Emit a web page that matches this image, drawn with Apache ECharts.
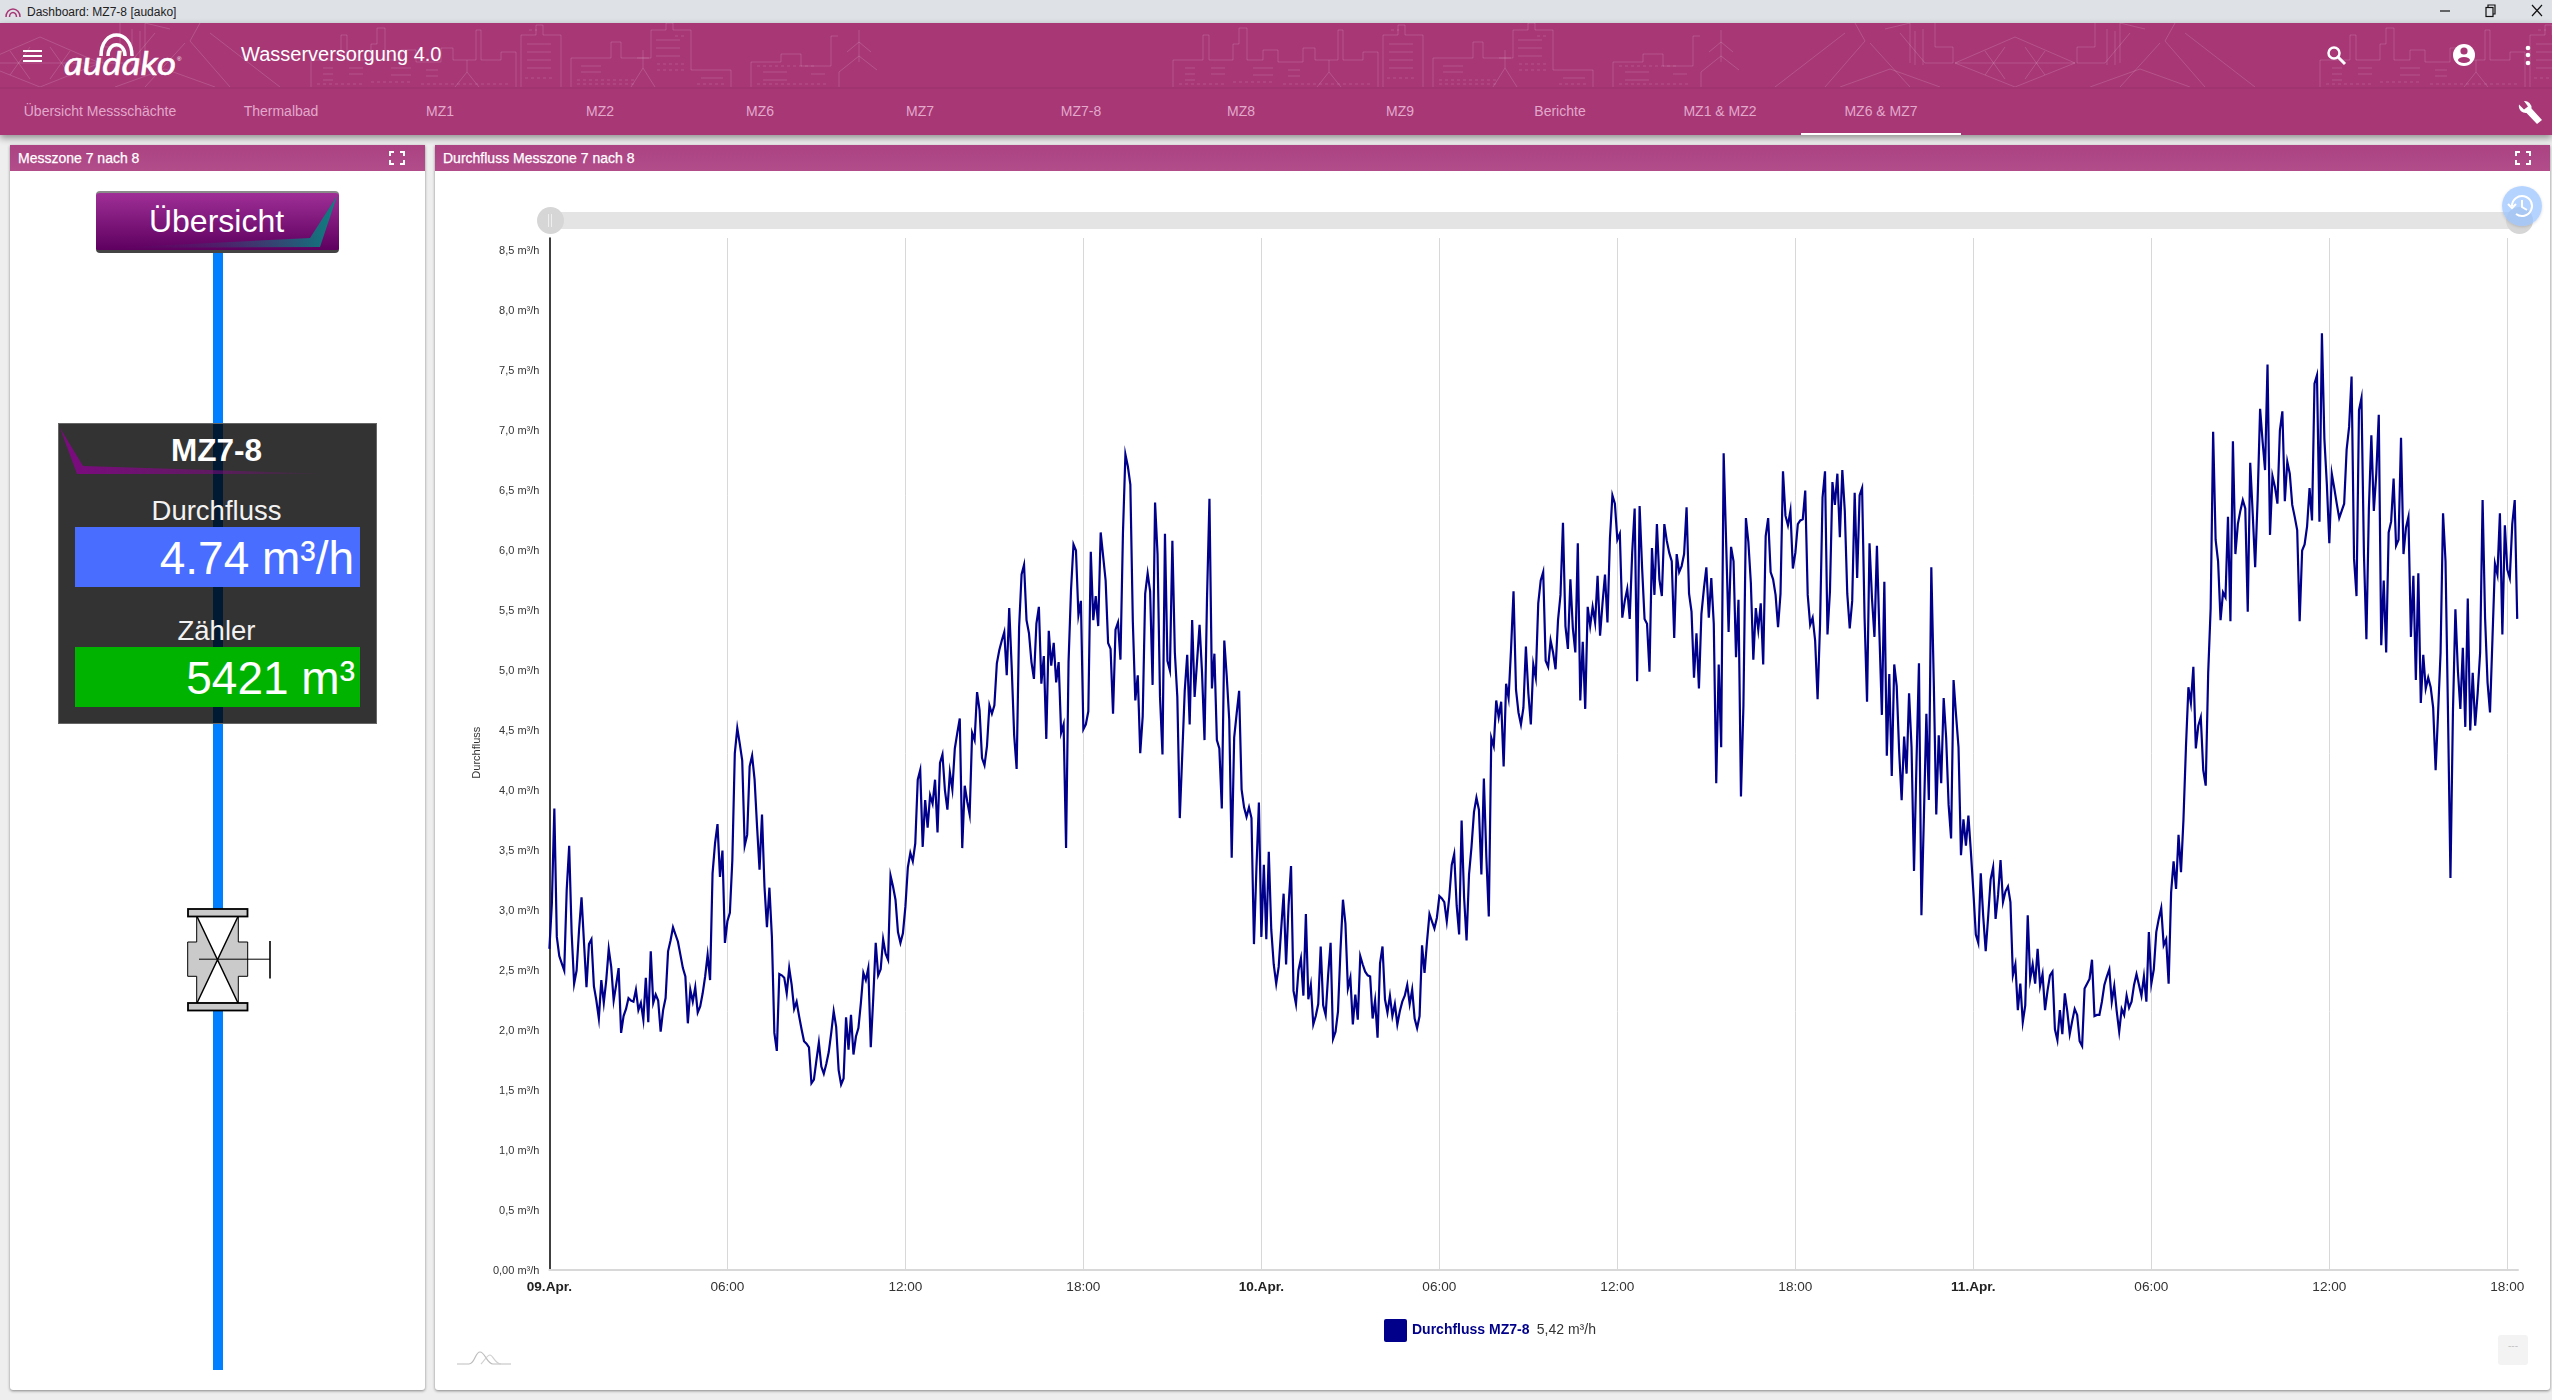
<!DOCTYPE html>
<html lang="de"><head><meta charset="utf-8"><title>Dashboard: MZ7-8 [audako]</title>
<script src="https://cdn.jsdelivr.net/npm/echarts@6/dist/echarts.min.js"></script>
<style>
html,body{margin:0;padding:0;width:2552px;height:1400px;overflow:hidden;background:#eeeeee;font-family:"Liberation Sans",Arial,sans-serif}
.a{position:absolute}
.t{position:absolute;white-space:nowrap;line-height:1}
.tab{position:absolute;top:104px;width:160px;margin-left:-80px;text-align:center;font-size:14px;line-height:14px;color:#e2a9cb;white-space:nowrap}
.card{position:absolute;top:145px;height:1245px;background:#fff;box-shadow:0 1px 3px rgba(0,0,0,.45);border-radius:0 0 3px 3px}
.chead{position:absolute;left:0;right:0;top:0;height:26px;background:linear-gradient(#ab4282,#b24d8a);color:#fff;font-size:14px;line-height:26px;padding-left:8px;box-sizing:border-box;-webkit-text-stroke:.25px #fff}
#main{position:absolute;left:0;top:0;width:2552px;height:1400px;z-index:5}
.over{z-index:6}
</style></head><body>

<div class="a" style="left:0;top:0;width:2552px;height:23px;background:#dee1e6"></div>
<svg class="a" style="left:4px;top:6px" width="18" height="12" viewBox="0 0 18 12" fill="none" stroke="#a83776" stroke-width="1.5"><path d="M2 11A7 8 0 0 1 16 11"/><path d="M5.5 11A3.5 4.5 0 0 1 12.5 11"/></svg>
<div class="t" style="left:27px;top:6px;font-size:12px;color:#222">Dashboard: MZ7-8 [audako]</div>
<svg class="a" style="left:2430px;top:0" width="122" height="23" fill="none" stroke="#111" stroke-width="1.2"><path d="M10 11H20"/><rect x="56" y="7.5" width="7" height="9"/><path d="M58 7.5V5H65V14H63"/><path d="M102 5L112 16M112 5L102 16"/></svg>

<div class="a" style="left:0;top:23px;width:2552px;height:112px;background:#a83776;box-shadow:0 3px 7px rgba(0,0,0,.4)"></div>
<svg class="a" style="left:0;top:23px" width="2552" height="64" viewBox="0 23 2552 64" fill="none" stroke="rgba(255,255,255,.15)" stroke-width="1">
<defs>
<g id="city">
<path d="M0 87V60H30V35H36V60H60V44H66V28H74V60H90V50H105V62H130V48H142V60H165V30H170V60H190V52H205V87"/>
<path d="M210 87V35H225V25H232V35H250V87M260 87V58H300V42H310V58H340V30H355V23H362V30H380V70H420V87"/>
<path d="M440 87V62H470V54H490V66H520V36H527M528 87V72L548 56M548 56L566 70M548 62V30M548 42L536 52M548 42L560 52"/>
<path d="M12 68h10M12 74h10M12 80h10M38 68h14M38 74h14M80 68h20M80 75h20M115 70h12M115 76h12M216 44h24M216 52h24M216 60h24M216 68h24M270 66h20M270 72h20M345 40h24M345 48h24M345 56h24M390 78h22M452 72h24M452 80h24M500 74h14"/>
<path stroke-dasharray="3 3" d="M6 84h48M60 82h40M110 84h90M214 78h30M266 80h60M266 84h60M346 64h28M346 70h28M386 84h30M446 66h60M446 84h70M218 30h8M364 36h10"/>
<path d="M144 87L156 72L168 87M156 72V60M320 87L332 68L344 87M332 68V50M326 58H338"/>
</g>
<g id="dam">
<path d="M-60 40L0 14L60 40L0 64ZM-60 40H60M-30 28L-10 56M30 28L10 56M-30 52L-10 24M30 52L10 24"/>
<path d="M-62 40V24H-80V0M62 40V24H80V0M-115 10L-90 40H-62M115 10L90 40H62M-145 20L-105 64M145 20L105 64"/>
<path d="M-130 6L-105 0V40M130 6L105 0V40M-100 8V42M100 8V42M-92 6V42M92 6V42"/>
<path d="M-190 64L-150 18L-160 0M190 64L150 18L160 0M-240 64L-170 10M240 64L170 10"/>
<path d="M-175 64L-125 46L-75 64M175 64L125 46L75 64"/>
</g>
</defs>
<use href="#dam" x="40" y="23"/>
<use href="#city" x="311" y="0"/>
<use href="#city" x="1173" y="0"/>
<use href="#dam" x="2015" y="23"/>
<use href="#city" x="2320" y="0"/>
</svg>
<div class="a" style="left:0;top:87px;width:2552px;height:2px;background:rgba(0,0,0,.05)"></div>

<div class="a" style="left:23px;top:50px;width:19px;height:2px;background:#fff"></div>
<div class="a" style="left:23px;top:55px;width:19px;height:2px;background:#fff"></div>
<div class="a" style="left:23px;top:60px;width:19px;height:2px;background:#fff"></div>
<svg class="a" style="left:60px;top:30px" width="125" height="50" viewBox="60 30 125 50" fill="none" stroke="#fff" stroke-width="3.5"><path d="M101 56C101 28 132 28 132 56"/><path d="M108 56C108 41 125 41 125 56"/>
<text x="64" y="75" textLength="112" lengthAdjust="spacingAndGlyphs" font-family="Lato" font-style="italic" font-size="33" fill="#fff" stroke="#fff" stroke-width=".6">audako</text><text x="177" y="61" font-size="6" fill="#fff" stroke="none">®</text></svg>
<div class="t" style="left:241px;top:44px;font-size:20px;color:#fff">Wasserversorgung 4.0</div>
<svg class="a" style="left:2320px;top:40px" width="232" height="30" fill="#fff"><circle cx="14" cy="13" r="5.5" fill="none" stroke="#fff" stroke-width="2.5"/><path d="M18 17L25 24" stroke="#fff" stroke-width="3"/><circle cx="144" cy="15" r="11"/><circle cx="144" cy="11" r="3.6" fill="#a83776"/><ellipse cx="144" cy="20" rx="6" ry="3" fill="#a83776"/><circle cx="208" cy="8" r="2.3"/><circle cx="208" cy="15" r="2.3"/><circle cx="208" cy="23" r="2.3"/></svg>

<div class="tab" style="left:100px">Übersicht Messschächte</div>
<div class="tab" style="left:281px">Thermalbad</div>
<div class="tab" style="left:440px">MZ1</div>
<div class="tab" style="left:600px">MZ2</div>
<div class="tab" style="left:760px">MZ6</div>
<div class="tab" style="left:920px">MZ7</div>
<div class="tab" style="left:1081px">MZ7-8</div>
<div class="tab" style="left:1241px">MZ8</div>
<div class="tab" style="left:1400px">MZ9</div>
<div class="tab" style="left:1560px">Berichte</div>
<div class="tab" style="left:1720px">MZ1 &amp; MZ2</div>
<div class="tab" style="left:1881px">MZ6 &amp; MZ7</div>
<div class="a" style="left:1801px;top:133px;width:160px;height:2px;background:#fff"></div>
<svg class="a" style="left:2516px;top:99px" width="28" height="26"><path d="M3 5.5A7 7 0 0 0 10.5 14L21 25L26 21L15.5 9.5A7 7 0 0 0 8 2L12 7.5L8 10.5Z" fill="#fff"/></svg>

<div class="card" style="left:10px;width:415px"><div class="chead">Messzone 7 nach 8</div></div>
<div class="card" style="left:435px;width:2115px"><div class="chead">Durchfluss Messzone 7 nach 8</div></div>
<svg class="a" style="left:389px;top:151px;z-index:2" width="16" height="14" fill="none" stroke="#fff" stroke-width="2"><path d="M1 5V1H5M11 1H15V5M15 9V13H11M5 13H1V9"/></svg>
<svg class="a" style="left:2515px;top:151px;z-index:2" width="16" height="14" fill="none" stroke="#fff" stroke-width="2"><path d="M1 5V1H5M11 1H15V5M15 9V13H11M5 13H1V9"/></svg>

<div class="a" style="left:212.5px;top:250px;width:10px;height:1120px;background:#0080ff;z-index:2"></div>
<div class="a" style="left:96px;top:191px;width:243px;height:62px;box-sizing:border-box;border-radius:4px;border-top:2px solid #8a8a8a;border-bottom:3px solid #444;background:linear-gradient(#9f2f96,#5e0060);z-index:3;overflow:hidden;text-align:center;color:#fff;font-size:32px;line-height:56px;padding-right:2px">Übersicht</div>
<svg class="a" style="left:96px;top:191px;z-index:3" width="243" height="62"><defs><linearGradient id="tg" x1="0" x2="1" y1="0" y2="0"><stop offset="0" stop-color="#5e0060" stop-opacity="0"/><stop offset="1" stop-color="#0a8080"/></linearGradient></defs><polygon points="241,5 224,56 12,57 214,47" fill="url(#tg)"/></svg>

<div class="a" style="left:58px;top:423px;width:319px;height:301px;box-sizing:border-box;background:rgba(0,0,0,.8);border:1px solid #666;z-index:3"></div>
<svg class="a" style="left:58px;top:423px;z-index:3" width="319" height="60"><defs><linearGradient id="pg" x1="0" x2="1" y1="0" y2="0"><stop offset="0" stop-color="#7d0a80"/><stop offset=".55" stop-color="#7d0a80" stop-opacity=".6"/><stop offset="1" stop-color="#7d0a80" stop-opacity="0"/></linearGradient></defs><polygon points="2,5 25,43 275,51 19,51" fill="url(#pg)"/></svg>
<div class="t" style="left:57px;width:319px;top:435px;text-align:center;font-size:31.5px;font-weight:bold;color:#fff;z-index:4">MZ7-8</div>
<div class="t" style="left:57px;width:319px;top:497px;text-align:center;font-size:27.5px;color:#f2f2f2;z-index:4">Durchfluss</div>
<div class="t" style="left:75px;top:526.5px;width:285px;height:60px;box-sizing:border-box;background:#486dff;color:#fff;font-size:46px;line-height:62px;text-align:right;padding-right:6px;z-index:4">4.74 m³/h</div>
<div class="t" style="left:57px;width:319px;top:617px;text-align:center;font-size:27.5px;color:#f2f2f2;z-index:4">Zähler</div>
<div class="t" style="left:75px;top:647px;width:285px;height:60px;box-sizing:border-box;background:#00b300;color:#fff;font-size:46px;line-height:62px;text-align:right;padding-right:5px;z-index:4">5421 m³</div>

<svg class="a" style="left:180px;top:900px;z-index:3" width="100" height="120" viewBox="180 900 100 120" fill="none" stroke="#000">
<polygon points="196.7,916.3 238.3,916.3 238.3,942 247.7,942 247.7,976.3 238.3,976.3 238.3,1002.9 196.7,1002.9 196.7,976.3 187.7,976.3 187.7,942 196.7,942" fill="#cacaca" stroke-width="1"/>
<polygon points="197,917 238,917 217.5,959.5" fill="#fff" stroke="none"/><polygon points="197,1002.5 238,1002.5 217.5,959.5" fill="#fff" stroke="none"/>
<rect x="188" y="909" width="59.5" height="7.5" fill="#cacaca" stroke-width="1.8"/><rect x="188" y="1003" width="59.5" height="7.5" fill="#cacaca" stroke-width="1.8"/>
<path d="M197 916.5L238 1003M238 916.5L197 1003" stroke-width="1.5"/>
<path d="M199 959.2H270" stroke-width="1"/><path d="M270 941V978.5" stroke-width="1.6"/></svg>

<div class="a over" style="left:550px;top:212px;width:1969px;height:17px;background:#e4e4e4"></div>
<div class="a over" style="left:536.5px;top:207px;width:27px;height:27px;border-radius:50%;background:#d6d6d6"></div>
<div class="a over" style="left:548px;top:214px;width:1px;height:13px;background:#eee"></div><div class="a over" style="left:551px;top:214px;width:1px;height:13px;background:#eee"></div>
<div class="a over" style="left:2505.5px;top:207px;width:27px;height:27px;border-radius:50%;background:#d6d6d6"></div>
<div class="a over" style="left:2501.5px;top:186px;width:40px;height:40px;border-radius:50%;background:rgba(150,193,255,.7);box-shadow:0 1px 3px rgba(0,0,0,.15)"></div>
<svg class="a over" style="left:2501.5px;top:186px" width="40" height="40" fill="none" stroke="#fff" stroke-width="2"><path d="M10 20A10 10 0 1 1 14 28"/><path d="M6 18L10 22L14 18"/><path d="M20 14V21L25 24"/></svg>

<svg class="a over" style="left:457px;top:1350px" width="56" height="16" fill="none" stroke="#bdbdbd" stroke-width="1.2"><path d="M0 14H12C18 14 18 2 23 2S30 14 36 14H54" /><path d="M24 14C28 10 30 5 33 5S38 14 44 14" stroke="#d0d0d0"/></svg>
<div class="a over" style="left:2498px;top:1335px;width:30px;height:30px;border-radius:3px;background:#f3f3f3;color:#c4c4c4;font-size:10px;line-height:22px;text-align:center">---</div>

<div id="main"></div>
<script>
var seriesName = 'Durchfluss MZ7-8';
var legendValue = '5,42 m³/h';
var xTickLabels = ['09.Apr.','06:00','12:00','18:00','10.Apr.','06:00','12:00','18:00','11.Apr.','06:00','12:00','18:00'];
var yTickLabels = ['0,00 m³/h','0,5 m³/h','1,0 m³/h','1,5 m³/h','2,0 m³/h','2,5 m³/h','3,0 m³/h','3,5 m³/h','4,0 m³/h','4,5 m³/h','5,0 m³/h','5,5 m³/h','6,0 m³/h','6,5 m³/h','7,0 m³/h','7,5 m³/h','8,0 m³/h','8,5 m³/h'];
var sampleHours = 5 / 60;
var flowApr09 = [
2.67,3.05,3.84,2.77,2.61,2.55,2.49,3.16,3.53,2.80,2.38,2.49,2.83,3.10,2.72,2.35,2.71,2.75,2.36,2.24,2.09,2.41,2.22,2.41,2.67,2.52,2.24,2.37,2.51,1.97,2.11,2.17,2.26,2.24,2.23,2.33,2.16,2.22,2.08,2.43,2.06,2.65,2.22,2.29,2.24,1.98,2.16,2.26,2.65,2.74,2.85,2.79,2.73,2.62,2.51,2.44,2.05,2.33,2.23,2.35,2.14,2.19,2.30,2.44,2.62,2.41,3.30,3.55,3.71,3.27,3.49,2.72,
2.90,2.97,3.41,4.30,4.51,4.38,4.24,3.53,3.62,4.19,4.28,4.08,3.69,3.33,3.79,3.19,2.85,3.18,2.77,1.97,1.82,2.46,2.45,2.43,2.30,2.51,2.37,2.17,2.23,2.11,2.00,1.90,1.88,1.85,1.55,1.58,1.74,1.89,1.69,1.63,1.71,1.81,1.97,2.15,2.02,1.66,1.54,1.59,2.10,1.83,2.12,1.79,1.94,2.01,2.22,2.47,2.41,2.51,1.85,2.26,2.72,2.45,2.50,2.75,2.63,2.58,3.28,3.19,3.08,2.81,2.72,2.80,
3.02,3.35,3.47,3.40,3.55,4.08,4.16,3.52,3.91,3.68,3.95,3.88,4.08,3.64,4.22,4.29,3.99,3.83,4.14,4.00,4.34,4.47,4.59,3.51,4.03,3.90,3.79,4.47,4.41,4.81,4.66,4.26,4.20,4.36,4.70,4.63,4.70,5.05,5.16,5.24,5.31,4.95,5.51,5.02,4.45,4.17,5.35,5.79,5.87,5.41,5.30,5.06,4.92,5.38,5.52,4.88,5.11,4.42,5.32,5.03,5.22,4.89,5.06,4.47,4.54,3.51,5.06,5.66,6.04,5.99,5.45,5.57,
4.50,4.54,4.65,5.98,5.41,5.61,5.36,6.14,5.94,5.74,5.22,5.17,4.63,5.33,5.39,5.08,6.13,6.79,6.69,6.54,5.40,4.74,4.95,4.30,4.61,5.63,5.80,5.65,4.87,6.39,5.96,4.77,4.29,6.13,5.07,4.99,6.07,5.14,4.77,3.76,4.29,4.82,5.12,4.54,5.41,4.77,5.07,5.37,4.97,4.41,5.58,6.42,4.84,5.13,4.41,4.34,3.84,5.24,4.94,4.58,3.43,4.43,4.63,4.82,4.00,3.85,3.77,3.85,3.76,2.71,3.34,3.89];
var flowApr10 = [
2.77,3.37,2.75,3.48,2.83,2.54,2.38,2.52,2.83,3.13,2.54,3.03,3.36,2.32,2.21,2.49,2.59,2.28,2.96,2.25,2.37,2.04,2.11,2.21,2.69,2.20,2.12,2.45,2.72,1.92,1.98,2.15,2.66,3.08,2.88,2.34,2.43,2.04,2.29,2.08,2.61,2.54,2.48,2.45,2.44,2.09,2.24,1.93,2.55,2.69,2.25,2.14,2.28,2.11,2.21,2.04,2.15,2.23,2.28,2.37,2.21,2.33,2.09,2.01,2.11,2.70,2.47,2.73,2.96,2.90,2.84,2.93,
3.11,3.09,3.06,2.90,3.10,3.37,3.46,3.03,2.79,3.74,3.10,2.74,3.29,3.52,3.81,3.93,3.83,3.29,4.09,3.44,2.94,4.43,4.36,4.74,4.60,4.73,4.19,4.88,4.76,5.17,5.65,4.83,4.64,4.54,4.68,5.19,4.80,4.54,5.04,4.93,5.55,5.74,5.81,5.07,5.02,5.24,5.14,5.00,5.41,5.62,6.22,5.36,5.17,5.75,5.34,5.14,6.05,4.74,5.23,4.67,5.52,5.36,5.52,5.39,5.78,5.28,5.55,5.79,5.39,6.09,6.45,6.38,
6.08,6.13,5.43,5.57,5.67,5.42,5.97,6.34,4.90,6.36,5.85,5.42,5.38,4.98,6.01,5.62,6.21,5.75,5.61,6.21,6.07,5.97,5.90,5.26,5.96,5.81,5.86,5.96,6.35,5.63,5.48,4.93,5.30,4.84,5.46,5.67,5.85,5.43,5.76,5.38,4.05,5.04,4.35,6.80,6.06,5.31,6.02,5.90,5.10,5.58,3.94,4.70,6.26,6.06,5.72,5.08,5.51,5.33,5.55,5.04,6.11,6.26,5.81,5.75,5.62,5.35,5.63,6.65,6.28,6.20,6.32,5.84,
5.97,6.21,6.24,6.25,6.49,5.62,5.37,5.43,5.24,4.75,5.38,6.43,6.65,5.29,5.65,6.56,6.37,6.63,6.10,6.66,6.32,5.63,5.34,5.57,6.47,5.76,6.45,6.51,5.43,4.73,6.05,5.59,5.27,6.03,5.30,4.62,5.73,4.28,4.96,4.11,5.04,4.86,4.31,3.91,4.44,4.13,4.80,4.35,3.32,4.22,5.05,2.95,3.77,4.63,3.91,5.85,4.89,3.79,4.45,4.05,4.76,4.43,3.87,3.59,4.91,4.62,4.35,3.45,3.75,3.53,3.78,3.48];
var flowApr11 = [
3.15,2.79,2.72,3.30,2.94,2.65,2.94,3.25,3.35,2.92,3.12,3.41,3.06,3.15,3.19,3.06,2.45,2.54,2.16,2.38,2.06,2.20,2.95,2.42,2.54,2.38,2.67,2.36,2.46,2.16,2.32,2.45,2.48,2.00,1.91,2.16,1.96,2.30,2.15,1.96,2.07,2.17,2.12,1.90,1.86,2.34,2.38,2.42,2.58,2.11,2.12,2.12,2.23,2.37,2.44,2.50,2.23,2.36,2.15,1.98,2.17,2.12,2.28,2.18,2.23,2.37,2.46,2.37,2.28,2.44,2.23,2.81,
2.38,2.50,2.81,2.92,3.01,2.70,2.75,2.38,3.14,3.40,3.17,3.62,3.31,3.75,4.35,4.85,4.72,5.02,4.34,4.53,4.60,4.16,4.03,4.97,5.51,6.98,6.08,5.90,5.41,5.64,5.60,6.27,5.40,6.90,5.96,6.21,6.32,6.41,6.34,5.48,6.72,6.30,5.85,6.42,7.17,6.90,6.66,7.54,6.12,6.61,6.52,6.38,6.99,7.15,6.40,6.73,6.63,6.37,6.27,6.16,5.40,5.99,6.04,6.19,6.51,6.24,7.38,7.45,6.23,7.80,6.92,6.54,
6.05,6.63,6.51,6.38,6.26,6.32,6.38,6.83,7.02,7.44,5.92,5.61,7.16,7.26,5.96,5.25,6.34,6.95,6.32,6.63,7.12,5.20,5.74,5.14,6.14,6.23,6.59,6.03,6.08,6.93,5.96,6.18,6.27,5.27,5.78,4.91,5.80,4.72,5.12,4.84,4.93,4.85,4.68,4.16,4.64,5.14,6.30,5.90,4.64,3.26,4.64,5.50,4.99,4.67,5.18,4.52,5.59,4.49,4.97,4.53,4.80,5.14,6.41,5.43,4.89,4.64,5.26,5.88,5.79,6.30,5.29,6.20,
5.83,5.76,6.21,6.41,5.42];

var flowValues = flowApr09.concat(flowApr10, flowApr11);
var flowPoints = flowValues.map(function (v, i) { return [i * sampleHours, v]; });

var chart = echarts.init(document.getElementById('main'), null, { renderer: 'canvas' });
chart.setOption({
  animation: false,
  backgroundColor: 'transparent',
  textStyle: { fontFamily: '"Liberation Sans", Arial, sans-serif' },
  grid: { left: 549.4, right: 34, top: 238, bottom: 130.7, containLabel: false },
  legend: {
    show: true, left: 1384, top: 1319, padding: 0, itemWidth: 23, itemHeight: 23, itemGap: 5,
    icon: 'path://M2,0H21Q23,0 23,2V21Q23,23 21,23H2Q0,23 0,21V2Q0,0 2,0Z', selectedMode: false,
    data: [{ name: seriesName, itemStyle: { color: '#00008b' } }],
    formatter: function (n) { return '{a|' + n + '} {b|' + legendValue + '}'; },
    textStyle: { rich: {
      a: { fontSize: 14, fontWeight: 'bold', color: '#00008b', fontFamily: '"Liberation Sans"' },
      b: { fontSize: 14, color: '#333333', fontFamily: '"Liberation Sans"', padding: [0, 0, 0, 4] }
    } }
  },
  xAxis: {
    type: 'value', min: 0, max: 66.36, interval: 6,
    axisLine: { show: true, onZero: false, lineStyle: { color: '#d8d8d8', width: 2 } },
    axisTick: { show: false },
    splitLine: { show: true, showMinLine: false, showMaxLine: false, lineStyle: { color: '#d8d8d8', width: 1 } },
    axisLabel: {
      margin: 11, showMaxLabel: false, hideOverlap: false,
      formatter: function (v) {
        var idx = Math.round(v / 6);
        var s = xTickLabels[idx];
        if (s === undefined) return '';
        return idx % 4 === 0 ? '{d|' + s + '}' : '{t|' + s + '}';
      },
      rich: {
        d: { fontSize: 13.6, fontWeight: 'bold', color: '#222222', fontFamily: '"Liberation Sans"' },
        t: { fontSize: 13.6, color: '#333333', fontFamily: '"Liberation Sans"' }
      }
    }
  },
  yAxis: {
    type: 'value', min: 0, max: 8.594, interval: 0.5,
    name: 'Durchfluss', nameLocation: 'middle', nameRotate: 90, nameGap: 67,
    nameTextStyle: { fontSize: 11, color: '#333333', fontFamily: '"Liberation Sans"', padding: [0, 0, 0, 2] },
    axisLine: { show: true, onZero: false, lineStyle: { color: '#000000', width: 1.5 } },
    axisTick: { show: false },
    splitLine: { show: false },
    axisLabel: {
      margin: 10, showMaxLabel: false, hideOverlap: false,
      formatter: function (v) { var s = yTickLabels[Math.round(v / 0.5)]; return s === undefined ? '' : '{l|' + s + '}'; },
      rich: { l: { fontSize: 11, color: '#333333', fontFamily: '"Liberation Sans"', padding: [3, 0, 0, 0] } }
    }
  },
  series: [{
    name: seriesName, type: 'line', data: flowPoints,
    showSymbol: false, symbol: 'none', smooth: false, sampling: false,
    lineStyle: { color: '#00008b', width: 2.2, join: 'miter' },
    itemStyle: { color: '#00008b' }
  }]
});
</script>
</body></html>
